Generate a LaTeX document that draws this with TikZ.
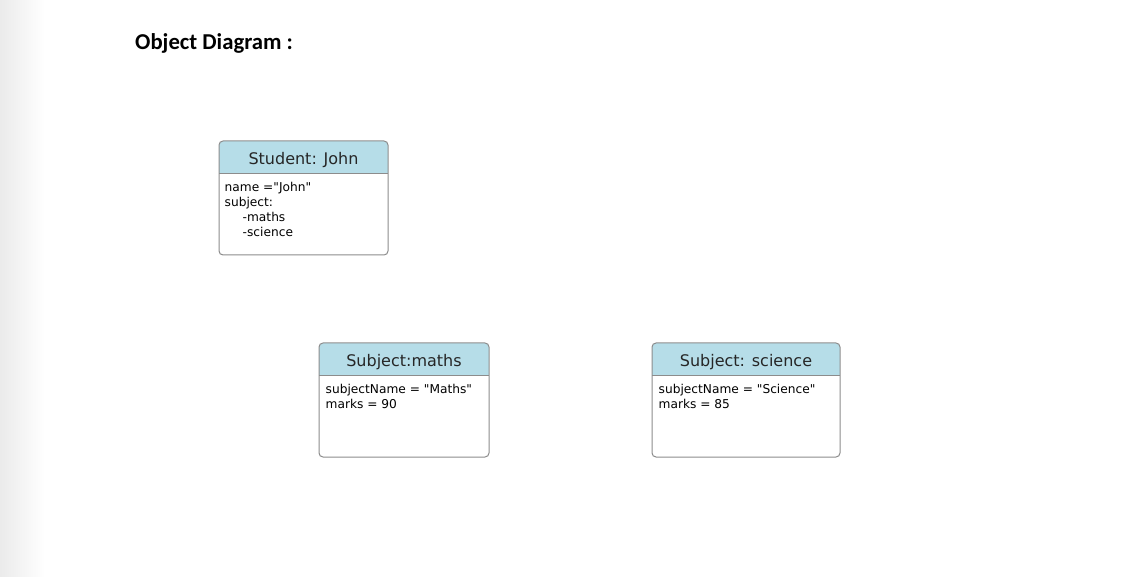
\documentclass[tikz,border=0pt]{standalone}
\usepackage{fontspec}
\setmainfont{DejaVu Sans}[Ligatures=TeXOff]
\newfontfamily\headingfont{Carlito}
\definecolor{headblue}{RGB}{182,221,232}
\definecolor{framegray}{RGB}{140,140,140}
\tikzstyle{object} = [rectangle, rounded corners=4pt, draw=framegray, fill=white, line width=1pt, inner sep=0pt,
  path picture={\fill[headblue, sharp corners] (path picture bounding box.north west) rectangle ([yshift=-33pt]path picture bounding box.north east);
    \draw[framegray, sharp corners] ([yshift=-33pt]path picture bounding box.north west) -- ([yshift=-33pt]path picture bounding box.north east);}]
\tikzstyle{objtitle} = [font=\fontsize{16}{19}\selectfont, text=black!85, inner sep=0pt]
\tikzstyle{attrs} = [font=\fontsize{12.2}{15}\selectfont, align=left, anchor=north west, inner sep=0pt, text=black]

\begin{document}
\begin{tikzpicture}[x=1pt, y=-1pt]

\useasboundingbox (0,0) rectangle (1141,577);
\fill [white] (0,0) rectangle (1141,577);
\shade [left color=black!8, right color=white] (0,0) rectangle (45,577);

\node at (135, 43) (heading) [anchor=west, inner sep=0pt] {\headingfont\fontsize{22.7}{26}\selectfont\bfseries Object Diagram :};

\node at (303.5, 198) (student) [object, minimum width=169pt, minimum height=114pt] {};
\node at (404, 400) (maths) [object, minimum width=170pt, minimum height=114pt] {};
\node at (746, 400) (science) [object, minimum width=188pt, minimum height=114pt] {};

\node at ([yshift=-19.5pt]student.north) (studenttitle) [objtitle] {Student: John};
\node at ([yshift=-19.5pt]maths.north) (mathstitle) [objtitle] {Subject:maths};
\node at ([yshift=-19.5pt]science.north) (sciencetitle) [objtitle] {Subject: science};

\node at ([xshift=6pt, yshift=-41.5pt]student.north west) (studentattrs) [attrs] {name ="John"\\ subject:\\ \hspace*{18pt}-maths\\ \hspace*{18pt}-science};
\node at ([xshift=7pt, yshift=-41.5pt]maths.north west) (mathsattrs) [attrs] {subjectName = "Maths"\\ marks = 90};
\node at ([xshift=7pt, yshift=-41.5pt]science.north west) (scienceattrs) [attrs] {subjectName = "Science"\\ marks = 85};

\end{tikzpicture}
\end{document}
